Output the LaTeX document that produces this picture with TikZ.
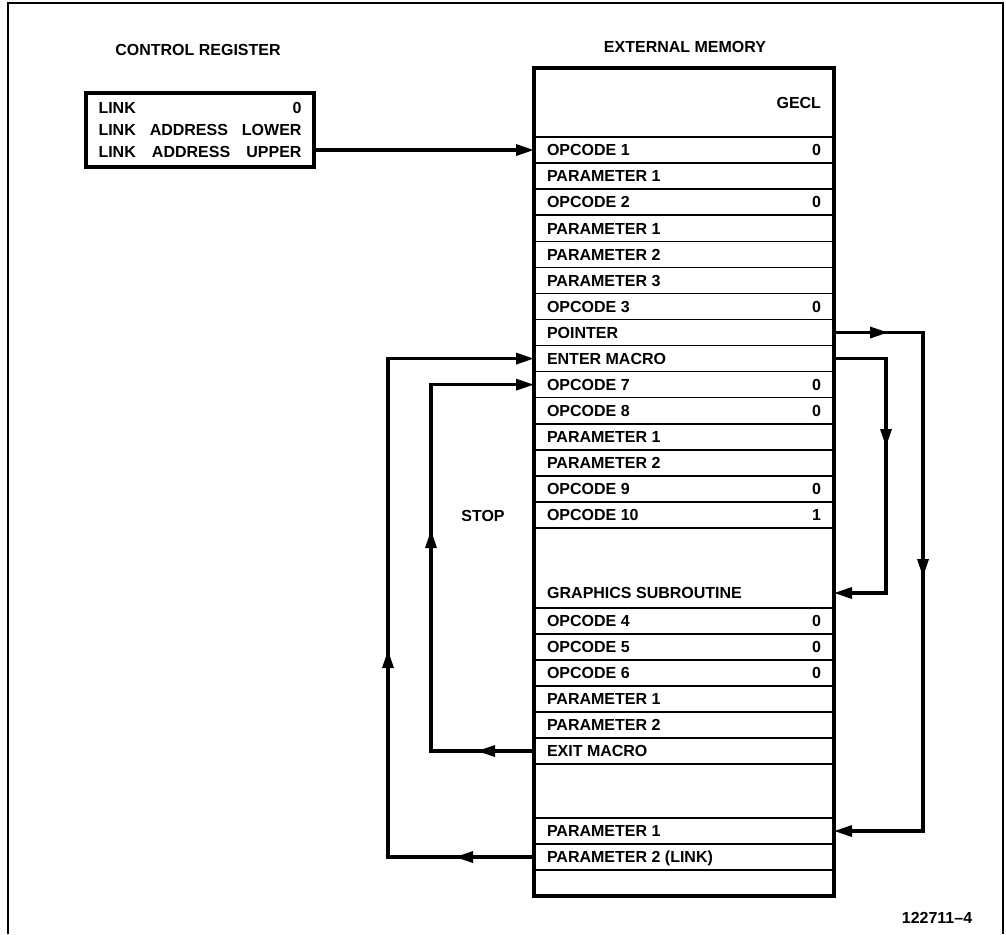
\documentclass[tikz,border=0pt]{standalone}
\usepackage{fontspec}
\setmainfont{Liberation Sans}
\usetikzlibrary{arrows.meta,decorations.markings}
\tikzset{
  Tri/.tip={Triangle[length=18pt,width=11pt]},
  txt/.style={inner sep=0pt, text height=11.6pt, text depth=0pt, font=\fontsize{16}{19}\selectfont\bfseries},
  mrow/.style={txt, draw, line width=1.5pt, outer sep=0pt, anchor=north west, minimum width=300pt, minimum height=26.07pt, inner xsep=13pt, inner ysep=0pt},
  mbox/.style={draw, line width=1.5pt, outer sep=0pt, anchor=north west, minimum width=300pt, inner sep=0pt},
  conn/.style={line width=3.2pt, line join=miter, -{Tri}},
  mids/.style 2 args={postaction={decorate}, decoration={markings, mark=at position #1 with {\arrow{Tri}}, mark=at position #2 with {\arrow{Tri}}}},
  mid/.style={postaction={decorate}, decoration={markings, mark=at position #1 with {\arrow{Tri}}}}
}
\newcommand\mrow[4]{\node[mrow] (#1) at (534,#2) {\hbox to 274pt{#3\hfill #4}};}
\begin{document}
\begin{tikzpicture}[x=1pt,y=-1pt]
\useasboundingbox (0,0) rectangle (1006,934);
% frame
\draw[line width=1.3pt] (8,934) -- (8,3) -- (1003,3) -- (1003,934);
% titles
\node[txt] (crt) at (198,50) {CONTROL REGISTER};
\node[txt] (emt) at (685,47) {EXTERNAL MEMORY};
\node[txt] (stop) at (483,516) {STOP};
\node[txt] (fig) at (937,918) {122711--4};
% control register
\node[draw, line width=3.2pt, minimum width=228pt, minimum height=74pt, inner sep=0pt, align=left,
      font=\fontsize{16}{22}\selectfont\bfseries] (cr) at (200,130)
  {\hbox to 203pt{LINK\hfill 0}\\\hbox to 203pt{LINK\hfill ADDRESS\hfill LOWER}\\\hbox to 203pt{LINK\hfill ADDRESS\hfill UPPER}};
% memory rows
\node[mrow, minimum height=69pt] (gecl) at (534,68) {\hbox to 274pt{\hfill GECL}};
\mrow{op1}{137.00}{OPCODE 1}{0}
\mrow{p11}{163.07}{PARAMETER 1}{}
\mrow{op2}{189.14}{OPCODE 2}{0}
\mrow{p21}{215.21}{PARAMETER 1}{}
\mrow{p22}{241.28}{PARAMETER 2}{}
\mrow{p23}{267.35}{PARAMETER 3}{}
\mrow{op3}{293.42}{OPCODE 3}{0}
\mrow{ptr}{319.49}{POINTER}{}
\mrow{ent}{345.56}{ENTER MACRO}{}
\mrow{op7}{371.63}{OPCODE 7}{0}
\mrow{op8}{397.70}{OPCODE 8}{0}
\mrow{p31}{423.77}{PARAMETER 1}{}
\mrow{p32}{449.84}{PARAMETER 2}{}
\mrow{op9}{475.91}{OPCODE 9}{0}
\mrow{op10}{501.98}{OPCODE 10}{1}
\node[mbox, minimum height=80pt] (gsr) at (534,528.05) {};
\node[txt, anchor=west] (gsl) at (547,593) {GRAPHICS SUBROUTINE};
\mrow{op4}{608}{OPCODE 4}{0}
\mrow{op5}{634}{OPCODE 5}{0}
\mrow{op6}{660}{OPCODE 6}{0}
\mrow{p41}{686}{PARAMETER 1}{}
\mrow{p42}{712}{PARAMETER 2}{}
\mrow{exm}{738}{EXIT MACRO}{}
\node[mbox, minimum height=54pt] (blk2) at (534,764) {};
\mrow{p51}{818}{PARAMETER 1}{}
\mrow{p52}{844}{PARAMETER 2 (LINK)}{}
\node[mbox, minimum height=26pt] (blk3) at (534,870) {};
\node[draw, line width=3.2pt, outer sep=0pt, anchor=north west, minimum width=300pt, minimum height=828pt, inner sep=0pt] (mem) at (534,68) {};
% columns for the loops
\coordinate (xOR) at (923,0);
\coordinate (xIR) at (886,0);
\coordinate (xIL) at (431,0);
\coordinate (xOL) at (388,0);
% connectors
\draw[conn] (cr.east |- op1.west) -- (op1.west);
\draw[conn, mids={54pt}{333.5pt}] (ptr.east) -- (ptr.east -| xOR) -- (p51.east -| xOR) -- (p51.east);
\draw[conn, mid=140.4pt] (ent.east) -- (ent.east -| xIR) -- (gsl -| xIR) -- (gsl -| gsr.east);
\draw[conn, mids={57pt}{324pt}] (exm.west) -- (exm.west -| xIL) -- (op7.west -| xIL) -- (op7.west);
\draw[conn, mids={79pt}{353pt}] (p52.west) -- (p52.west -| xOL) -- (ent.west -| xOL) -- (ent.west);
\end{tikzpicture}
\end{document}
